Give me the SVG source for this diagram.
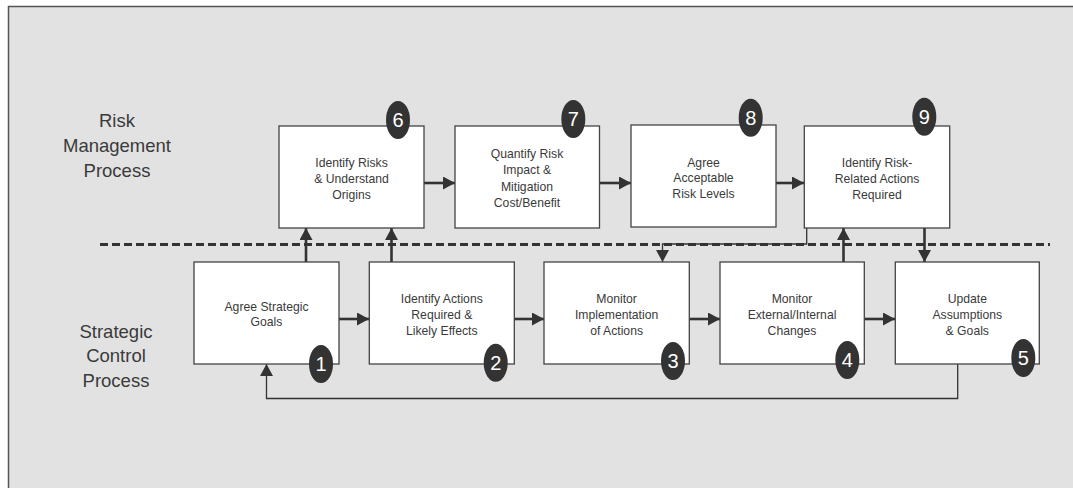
<svg xmlns="http://www.w3.org/2000/svg" width="1073" height="488" viewBox="0 0 1073 488">
<style>
.box{fill:#ffffff;stroke:#444;stroke-width:1.3}
.t{font-family:"Liberation Sans",Arial,sans-serif;font-size:12.2px;fill:#3a3a3a;text-anchor:middle}
.side{font-family:"Liberation Sans",Arial,sans-serif;font-size:18.5px;fill:#3a3a3a;text-anchor:middle}
.badge{fill:#333}
.num{font-family:"Liberation Sans",Arial,sans-serif;font-size:20px;fill:#fff;text-anchor:middle}
.thick{stroke:#333;stroke-width:2.6;fill:none;marker-end:url(#ah)}
.thin{stroke:#333;stroke-width:1.3;fill:none;marker-end:url(#ah)}
</style>
<defs>
<marker id="ah" markerUnits="userSpaceOnUse" markerWidth="13" markerHeight="13" refX="12" refY="6.5" orient="auto">
<path d="M0,0 L12,6.5 L0,13 z" fill="#333"/>
</marker>
</defs>
<rect x="0" y="0" width="1073" height="488" fill="#fff"/>
<rect x="8.5" y="6.5" width="1080" height="500" fill="#e2e2e2" stroke="#555" stroke-width="1.5"/>
<g id="labels">
<text class="side" x="117" y="126.6">Risk</text>
<text class="side" x="117" y="152">Management</text>
<text class="side" x="117" y="177.3">Process</text>
<text class="side" x="116" y="337.7">Strategic</text>
<text class="side" x="116" y="362.3">Control</text>
<text class="side" x="116" y="386.6">Process</text>
</g>
<line x1="100" y1="244.5" x2="1050" y2="244.5" stroke="#333" stroke-width="3" stroke-dasharray="8,4"/>
<g id="connectors">
<line class="thick" x1="339" y1="319" x2="369" y2="319"/>
<line class="thick" x1="514" y1="319" x2="544" y2="319"/>
<line class="thick" x1="689" y1="319" x2="720" y2="319"/>
<line class="thick" x1="864" y1="319" x2="895" y2="319"/>
<line class="thick" x1="424" y1="183" x2="455" y2="183"/>
<line class="thick" x1="599" y1="183" x2="631" y2="183"/>
<line class="thick" x1="776" y1="183" x2="804" y2="183"/>
<line class="thick" x1="306" y1="262" x2="306" y2="228"/>
<line class="thick" x1="391.5" y1="262" x2="391.5" y2="228"/>
<line class="thick" x1="843.5" y1="262" x2="843.5" y2="228"/>
<line class="thick" x1="924.5" y1="228" x2="924.5" y2="262"/>
<polyline class="thin" points="806.7,228 806.7,244 662.5,244 662.5,262"/>
<polyline class="thin" points="957.7,364 957.7,398.5 266.5,398.5 266.5,364"/>
</g>
<g id="n6">
<rect class="box" x="279" y="126" width="145" height="102"/>
<text class="t" x="351.5" y="167">Identify Risks</text>
<text class="t" x="351.5" y="183">&amp; Understand</text>
<text class="t" x="351.5" y="199">Origins</text>
<ellipse class="badge" cx="398" cy="120" rx="12" ry="19"/>
<text class="num" x="398" y="127">6</text>
</g>
<g id="n7">
<rect class="box" x="455" y="126" width="144.5" height="102"/>
<text class="t" x="527" y="158.3">Quantify Risk</text>
<text class="t" x="527" y="174.3">Impact &amp;</text>
<text class="t" x="527" y="190.5">Mitigation</text>
<text class="t" x="527" y="206.5">Cost/Benefit</text>
<ellipse class="badge" cx="573.3" cy="119" rx="12" ry="19"/>
<text class="num" x="573.3" y="126">7</text>
</g>
<g id="n8">
<rect class="box" x="631" y="125" width="145" height="102"/>
<text class="t" x="703.5" y="166.5">Agree</text>
<text class="t" x="703.5" y="182">Acceptable</text>
<text class="t" x="703.5" y="197.6">Risk Levels</text>
<ellipse class="badge" cx="750.7" cy="117.7" rx="12" ry="19"/>
<text class="num" x="750.7" y="124.7">8</text>
</g>
<g id="n9">
<rect class="box" x="804.3" y="126" width="145.4" height="102"/>
<text class="t" x="877" y="167">Identify Risk-</text>
<text class="t" x="877" y="183">Related Actions</text>
<text class="t" x="877" y="198.6">Required</text>
<ellipse class="badge" cx="924.3" cy="116.7" rx="12" ry="19"/>
<text class="num" x="924.3" y="123.7">9</text>
</g>
<g id="n1">
<rect class="box" x="194" y="262" width="145" height="102"/>
<text class="t" x="266.5" y="311">Agree Strategic</text>
<text class="t" x="266.5" y="325.5">Goals</text>
<ellipse class="badge" cx="321" cy="364" rx="12" ry="19"/>
<text class="num" x="321" y="371">1</text>
</g>
<g id="n2">
<rect class="box" x="369.3" y="262" width="145" height="102"/>
<text class="t" x="441.8" y="303">Identify Actions</text>
<text class="t" x="441.8" y="319">Required &amp;</text>
<text class="t" x="441.8" y="335">Likely Effects</text>
<ellipse class="badge" cx="495.7" cy="362.7" rx="12" ry="19"/>
<text class="num" x="495.7" y="369.7">2</text>
</g>
<g id="n3">
<rect class="box" x="544" y="262" width="145.3" height="102"/>
<text class="t" x="616.6" y="303">Monitor</text>
<text class="t" x="616.6" y="319">Implementation</text>
<text class="t" x="616.6" y="335">of Actions</text>
<ellipse class="badge" cx="673" cy="361" rx="12" ry="19"/>
<text class="num" x="673" y="368">3</text>
</g>
<g id="n4">
<rect class="box" x="720" y="262" width="144.3" height="102"/>
<text class="t" x="792" y="303">Monitor</text>
<text class="t" x="792" y="319">External/Internal</text>
<text class="t" x="792" y="335">Changes</text>
<ellipse class="badge" cx="847.3" cy="360" rx="12" ry="19"/>
<text class="num" x="847.3" y="367">4</text>
</g>
<g id="n5">
<rect class="box" x="895.3" y="262" width="144" height="102"/>
<text class="t" x="967.3" y="303">Update</text>
<text class="t" x="967.3" y="319">Assumptions</text>
<text class="t" x="967.3" y="335">&amp; Goals</text>
<ellipse class="badge" cx="1023.3" cy="358" rx="12" ry="19"/>
<text class="num" x="1023.3" y="365">5</text>
</g>
</svg>
